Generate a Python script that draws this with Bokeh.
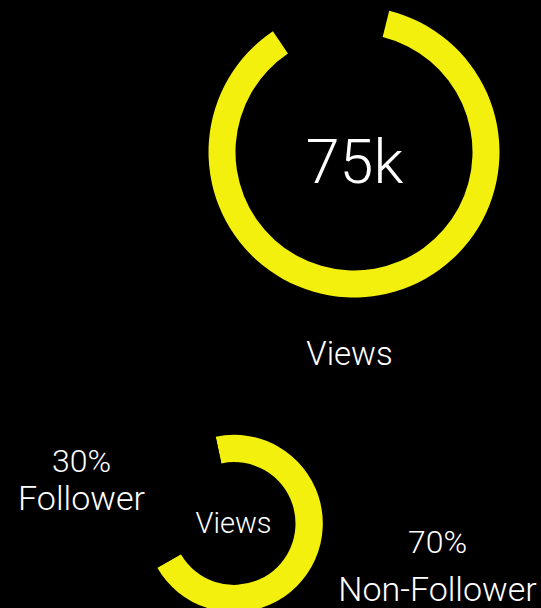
import numpy as np
from bokeh.plotting import figure
from bokeh.models import Range1d, GlobalInlineStyleSheet
from bokeh.core.properties import value
from bokeh.embed import file_html
from bokeh.resources import INLINE

# ---- data ----
views_label = "75k"
views_title = "Views"
views_ring_parts = [86.7, 13.3]          # filled share of the main ring, open gap (percent)
audience_labels = ["Non-Follower", "Follower"]
audience_pct = [70, 30]
audience_colors = ["#f3f00e", "#000000"]

# ---- layout ----
YELLOW = "#f3f00e"
W, H = 541, 608
FONT = value("Roboto Light")
BASE_SHIFT = 0.36   # svg text baseline correction (fraction of font size)


def py(y):
    return H - y


def ty(baseline, size):
    return py(baseline - BASE_SHIFT * size)


def wedge_angles(parts, start_cw_deg):
    parts = np.asarray(parts, dtype=float)
    frac = parts / parts.sum() * 360.0
    a0 = start_cw_deg + np.concatenate([[0], np.cumsum(frac)[:-1]])
    a1 = a0 + frac
    return np.radians(90 - a0), np.radians(90 - a1)


def label(x, baseline, text, size):
    p.text(x=[x], y=[ty(baseline, size)], text=[text], text_font=FONT, text_font_size=f"{size}px",
           text_color="white", text_align="center", text_baseline="alphabetic")


p = figure(width=W, height=H, x_range=Range1d(0, W), y_range=Range1d(0, H),
           output_backend="svg", toolbar_location=None, min_border=0)
p.axis.visible = False
p.grid.visible = False
p.outline_line_color = None
p.background_fill_color = "black"
p.border_fill_color = "black"
p.stylesheets = [GlobalInlineStyleSheet(css="html, body { background: #000; }")]

# main ring
s, e = wedge_angles(views_ring_parts, 14)
p.annular_wedge(x=353.5, y=py(151.5), inner_radius=118.5, outer_radius=145.5,
                start_angle=s[0], end_angle=e[0], direction="clock",
                color=YELLOW, line_color=None)
label(354, 183, views_label, 61)
label(349, 365, views_title, 33)

# audience ring
s2, e2 = wedge_angles(audience_pct, -12)
p.annular_wedge(x=233.6, y=py(523), inner_radius=61.4, outer_radius=88.7,
                start_angle=s2, end_angle=e2, direction="clock",
                color=audience_colors, line_color=None)
label(233, 533, views_title, 29)

# audience labels
label(81, 472, f"{audience_pct[1]}%", 32)
label(81, 510, audience_labels[1], 34)
label(437, 553, f"{audience_pct[0]}%", 32)
label(437, 601, audience_labels[0], 34)

open("out.html", "w").write(file_html(p, INLINE))
